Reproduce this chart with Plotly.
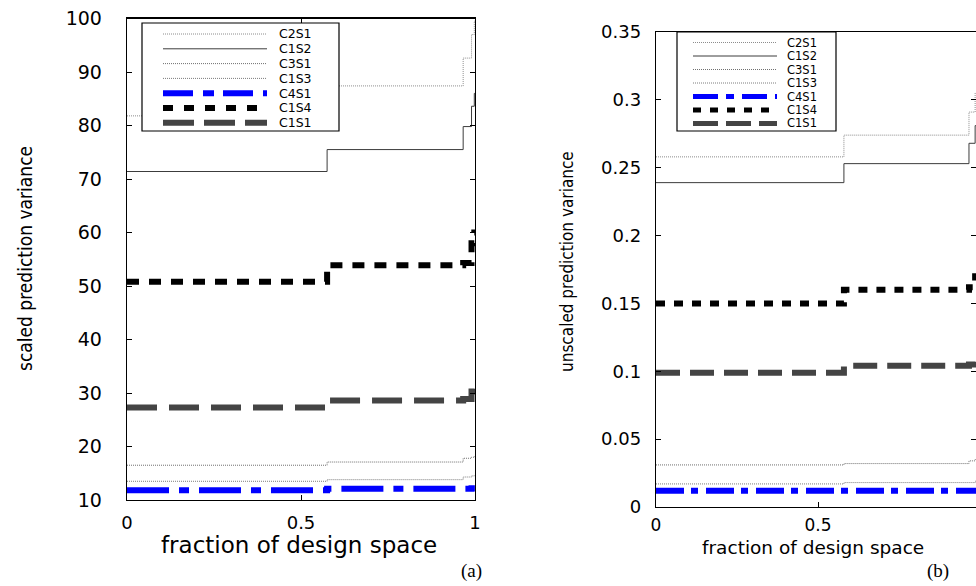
import plotly.graph_objects as go

W, H = 976, 586

# ---------------- data ----------------
names = ["C2S1", "C1S2", "C3S1", "C1S3", "C4S1", "C1S4", "C1S1"]

frac_a = [0.0, 0.575, 0.966, 0.990, 0.998]
a_C2S1 = [81.8, 87.4, 92.6, 97.0, 99.5]
a_C1S2 = [71.4, 75.5, 79.8, 83.6, 86.0]
a_C3S1 = [16.5, 17.1, 17.8, 18.0, 18.1]
a_C1S3 = [13.5, 13.8, 14.3, 14.5, 14.6]
a_C4S1 = [11.8, 12.1, 12.1, 12.2, 12.2]
a_C1S4 = [50.8, 53.9, 54.3, 58.0, 60.0]
a_C1S1 = [27.3, 28.6, 28.9, 30.3, 31.0]

frac_b = [0.0, 0.580, 0.966, 0.985, 0.998]
b_C2S1 = [0.258, 0.274, 0.291, 0.305, 0.310]
b_C1S2 = [0.239, 0.253, 0.268, 0.281, 0.300]
b_C3S1 = [0.031, 0.032, 0.034, 0.035, 0.035]
b_C1S3 = [0.017, 0.018, 0.018, 0.019, 0.019]
b_C4S1 = [0.012, 0.012, 0.012, 0.012, 0.012]
b_C1S4 = [0.150, 0.160, 0.162, 0.170, 0.175]
b_C1S1 = [0.099, 0.104, 0.105, 0.109, 0.111]

xticks = [0, 0.5, 1]
xticklabels = ["0", "0.5", "1"]
yticks_a = [10, 20, 30, 40, 50, 60, 70, 80, 90, 100]
yticklabels_a = [str(v) for v in yticks_a]
yticks_b = [0, 0.05, 0.1, 0.15, 0.2, 0.25, 0.3, 0.35]
yticklabels_b = ["0", "0.05", "0.1", "0.15", "0.2", "0.25", "0.3", "0.35"]

series_a = dict(C2S1=a_C2S1, C1S2=a_C1S2, C3S1=a_C3S1, C1S3=a_C1S3,
                C4S1=a_C4S1, C1S4=a_C1S4, C1S1=a_C1S1)
series_b = dict(C2S1=b_C2S1, C1S2=b_C1S2, C3S1=b_C3S1, C1S3=b_C1S3,
                C4S1=b_C4S1, C1S4=b_C1S4, C1S1=b_C1S1)

# ---------------- styles ----------------
style_a = {
    "C2S1": dict(color="#8c8c8c", width=1, dash="1px,1px"),
    "C1S2": dict(color="#3c3c3c", width=1, dash="solid"),
    "C3S1": dict(color="#707070", width=1, dash="1px,1px"),
    "C1S3": dict(color="#7c7c7c", width=1, dash="1px,1px"),
    "C4S1": dict(color="#0000ff", width=6, dash="42px,10px,10px,10px"),
    "C1S4": dict(color="#000000", width=6, dash="12px,10px"),
    "C1S1": dict(color="#444444", width=6, dash="30px,12px"),
}
style_b = {
    "C2S1": dict(color="#8c8c8c", width=1, dash="1px,1px"),
    "C1S2": dict(color="#3c3c3c", width=1, dash="solid"),
    "C3S1": dict(color="#707070", width=1, dash="1px,1px"),
    "C1S3": dict(color="#7c7c7c", width=1, dash="1px,1px"),
    "C4S1": dict(color="#0000ff", width=6, dash="28px,7px,7px,8px"),
    "C1S4": dict(color="#000000", width=6, dash="9px,9px"),
    "C1S1": dict(color="#444444", width=6, dash="24px,10px"),
}
leg_style_a = {
    "C4S1": dict(color="#0000ff", width=6, dash="30px,10px,11px,9px"),
    "C1S4": dict(color="#000000", width=6, dash="10px,11px"),
    "C1S1": dict(color="#444444", width=6, dash="31px,10px"),
}
leg_style_b = {
    "C4S1": dict(color="#0000ff", width=5, dash="25px,8px,8px,8px"),
    "C1S4": dict(color="#000000", width=5, dash="8px,9px"),
    "C1S1": dict(color="#444444", width=5, dash="25px,8px"),
}

def px(x):
    return x / W

def py(y):
    return 1 - y / H

fig = go.Figure()

for nm in names:
    ya = series_a[nm]
    fig.add_trace(go.Scatter(x=frac_a + [1.0], y=ya + [ya[-1]], mode="lines",
                             name=nm, line=dict(shape="hv", **style_a[nm]),
                             xaxis="x", yaxis="y", showlegend=False))
for nm in names:
    yb = series_b[nm]
    fig.add_trace(go.Scatter(x=frac_b + [1.0], y=yb + [yb[-1]], mode="lines",
                             name=nm, line=dict(shape="hv", **style_b[nm]),
                             xaxis="x2", yaxis="y2", showlegend=False))

common = dict(showline=True, linecolor="black", linewidth=1.3, mirror="ticks",
              ticks="inside", ticklen=5, tickcolor="black", tickwidth=1,
              showgrid=False, zeroline=False, automargin=False)

# panel geometry in pixels
ax_l, ax_r, ax_t, ax_b = 127, 475, 18.5, 500
bx_l, bx_unit, bx_t, bx_b = 656, 324, 32, 507

TICKFONT = "DejaVu Sans"
fig.update_layout(
    template="none",
    width=W, height=H,
    margin=dict(l=0, r=0, t=0, b=0, pad=0, autoexpand=False),
    paper_bgcolor="white", plot_bgcolor="white",
    hovermode=False,
    xaxis=dict(domain=[px(ax_l), px(ax_r)], range=[0, 1], anchor="y",
               tickvals=xticks, ticktext=xticklabels, ticklabelstandoff=6,
               tickfont=dict(family=TICKFONT, size=18, color="black"), **common),
    yaxis=dict(domain=[py(ax_b), py(ax_t)], range=[10, 100], anchor="x",
               tickvals=yticks_a, ticktext=yticklabels_a, ticklabelstandoff=20,
               tickfont=dict(family=TICKFONT, size=19, color="black"), **common),
    xaxis2=dict(domain=[px(bx_l), 1], range=[0, (W - bx_l) / bx_unit], anchor="y2",
                tickvals=xticks, ticktext=xticklabels, ticklabelstandoff=2,
                tickfont=dict(family=TICKFONT, size=17, color="black"), **common),
    yaxis2=dict(domain=[py(bx_b), py(bx_t)], range=[0, 0.35], anchor="x2",
                tickvals=yticks_b, ticktext=yticklabels_b, ticklabelstandoff=10,
                tickfont=dict(family=TICKFONT, size=18, color="black"), **common),
)

ann = []
shapes = []

TITLEFONT = "DejaVu Sans Condensed, Liberation Sans, Arial, sans-serif"
# axis titles
ann.append(dict(text="fraction of design space", x=px(299), y=py(545), xref="paper", yref="paper",
                xanchor="center", yanchor="middle", showarrow=False, borderpad=0,
                font=dict(family="DejaVu Sans", size=23, color="black")))
ann.append(dict(text="fraction of design space", x=px(813), y=py(547), xref="paper", yref="paper",
                xanchor="center", yanchor="middle", showarrow=False, borderpad=0,
                font=dict(family="DejaVu Sans", size=18.5, color="black")))
ann.append(dict(text="scaled prediction variance", x=px(25), y=py(259), xref="paper", yref="paper",
                xanchor="center", yanchor="middle", showarrow=False, textangle=-90,
                font=dict(family=TITLEFONT, size=19, color="black")))
ann.append(dict(text="unscaled prediction variance", x=px(567), y=py(262), xref="paper", yref="paper",
                xanchor="center", yanchor="middle", showarrow=False, textangle=-90,
                font=dict(family=TITLEFONT, size=17, color="black")))
ann.append(dict(text="(a)", x=px(471), y=py(571), xref="paper", yref="paper",
                xanchor="center", yanchor="middle", showarrow=False,
                font=dict(family="Liberation Serif", size=19, color="black")))
ann.append(dict(text="(b)", x=px(938), y=py(571), xref="paper", yref="paper",
                xanchor="center", yanchor="middle", showarrow=False,
                font=dict(family="Liberation Serif", size=19, color="black")))

# legends (drawn boxes)
def legend(box, s_x0, s_x1, t_x, row0, drow, fsize, lstyles, base_styles):
    l, t, r, b = box
    shapes.append(dict(type="rect", xref="paper", yref="paper", x0=px(l), x1=px(r),
                       y0=py(b), y1=py(t), line=dict(color="black", width=1.2),
                       fillcolor="white", layer="above"))
    for i, nm in enumerate(names):
        yy = row0 + i * drow
        st = lstyles.get(nm, base_styles[nm])
        shapes.append(dict(type="line", xref="paper", yref="paper", x0=px(s_x0), x1=px(s_x1),
                           y0=py(yy), y1=py(yy), line=st, layer="above"))
        ann.append(dict(text=nm, x=px(t_x), y=py(yy), xref="paper", yref="paper",
                        xanchor="left", yanchor="middle", showarrow=False, borderpad=0,
                        font=dict(family="DejaVu Sans", size=fsize, color="black")))

legend((142, 23, 339, 131), 163, 267, 278, 34, 14.8, 12.5, leg_style_a, style_a)
legend((677, 32, 836, 131), 693, 777, 786, 42.5, 13.5, 11.5, leg_style_b, style_b)

fig.update_layout(annotations=ann, shapes=shapes)
fig.write_html("out.html", config={"displayModeBar": False, "staticPlot": True},
               post_script="document.body.style.margin='0px';document.body.style.overflow='hidden';")
